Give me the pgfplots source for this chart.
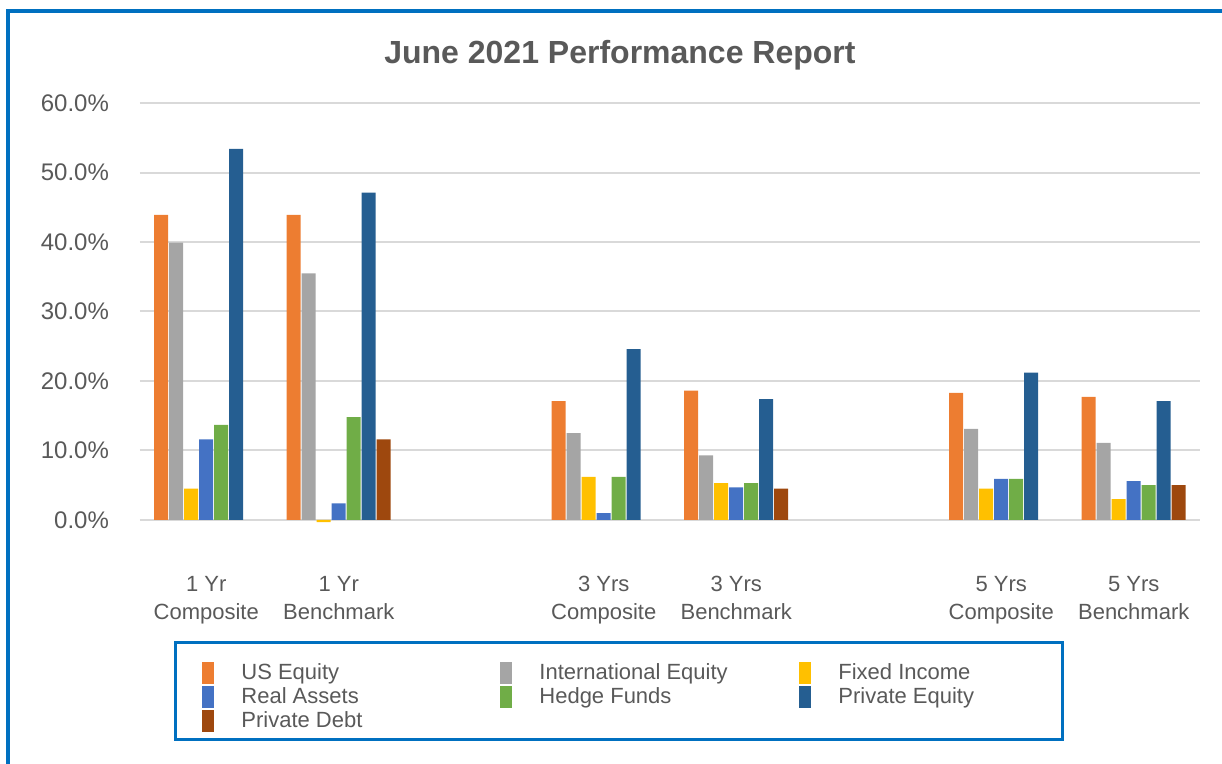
\documentclass[border=0pt]{standalone}
\usepackage{fontspec}
\setmainfont{Liberation Sans}
\usepackage{pgfplots}
\pgfplotsset{compat=1.18}
\definecolor{txt}{HTML}{595959}
\definecolor{gridc}{HTML}{D9D9D9}
\definecolor{frame}{HTML}{0070C0}
\definecolor{cUS}{HTML}{ED7D31}
\definecolor{cIE}{HTML}{A5A5A5}
\definecolor{cFI}{HTML}{FFC000}
\definecolor{cRA}{HTML}{4472C4}
\definecolor{cHF}{HTML}{70AD47}
\definecolor{cPE}{HTML}{255E91}
\definecolor{cPD}{HTML}{9E480E}
\begin{document}
\begin{tikzpicture}
\path[use as bounding box] (-70pt,-122pt) rectangle (541pt,260pt);
\begin{axis}[
  scale only axis,
  width=530pt, height=208.5pt,
  xmin=-0.5, xmax=7.5,
  ymin=0, ymax=60,
  clip=false,
  ybar=0.5pt, bar width=7pt,
  axis line style={draw=none},
  tick style={draw=none},
  ymajorgrids,
  major grid style={line width=1pt, color=gridc},
  ytick={0,10,20,30,40,50,60},
  yticklabels={0.0\%,10.0\%,20.0\%,30.0\%,40.0\%,50.0\%,60.0\%},
  yticklabel style={font=\fontsize{12}{14}\selectfont, text=txt, xshift=-12pt},
  xtick={0,1,3,4,6,7},
  xticklabels={{1 Yr\\Composite},{1 Yr\\Benchmark},{3 Yrs\\Composite},{3 Yrs\\Benchmark},{5 Yrs\\Composite},{5 Yrs\\Benchmark}},
  xticklabel style={font=\fontsize{11}{14}\selectfont, text=txt, align=center, yshift=-20.5pt},
  legend columns=3,
  legend cell align=left,
  legend style={at={(0.0585,-0.3405)}, anchor=north west,
    draw=none, fill=none, inner sep=0pt,
    font=\fontsize{11}{13}\selectfont, text=txt,
    column sep=0pt, row sep=1pt,
    nodes={inner sep=0pt},
    /tikz/every odd column/.append style={column sep=13.5pt}},
  legend image code/.code={\fill[#1,draw=none] (0pt,-5.5pt) rectangle (6pt,5.5pt);},
]
\addplot[fill=cUS, draw=none] coordinates {(0,43.9)(1,43.9)(3,17.1)(4,18.6)(6,18.3)(7,17.7)};
\addlegendentry{\makebox[129.5pt][l]{US Equity}}
\addplot[fill=cIE, draw=none] coordinates {(0,39.9)(1,35.5)(3,12.5)(4,9.3)(6,13.1)(7,11.1)};
\addlegendentry{\makebox[130pt][l]{International Equity}}
\addplot[fill=cFI, draw=none] coordinates {(0,4.5)(1,-0.3)(3,6.2)(4,5.3)(6,4.5)(7,3.0)};
\addlegendentry{\makebox[99pt][l]{Fixed Income}}
\addplot[fill=cRA, draw=none] coordinates {(0,11.6)(1,2.4)(3,1.0)(4,4.7)(6,5.9)(7,5.6)};
\addlegendentry{Real Assets}
\addplot[fill=cHF, draw=none] coordinates {(0,13.7)(1,14.8)(3,6.2)(4,5.3)(6,5.9)(7,5.0)};
\addlegendentry{Hedge Funds}
\addplot[fill=cPE, draw=none] coordinates {(0,53.4)(1,47.1)(3,24.6)(4,17.4)(6,21.2)(7,17.1)};
\addlegendentry{Private Equity}
\addplot[fill=cPD, draw=none] coordinates {(1,11.6)(4,4.5)(7,5.0)};
\addlegendentry{Private Debt}
\end{axis}
\draw[frame, line width=1.5pt] (18pt,-61.5pt) rectangle (461pt,-110pt);
\node[font=\bfseries\fontsize{16}{19}\selectfont, text=txt] at (240pt,232.5pt) {June 2021 Performance Report};
\draw[frame, line width=2pt] (-66pt,-122pt) -- (-66pt,254.5pt) -- (541pt,254.5pt);
\end{tikzpicture}
\end{document}
